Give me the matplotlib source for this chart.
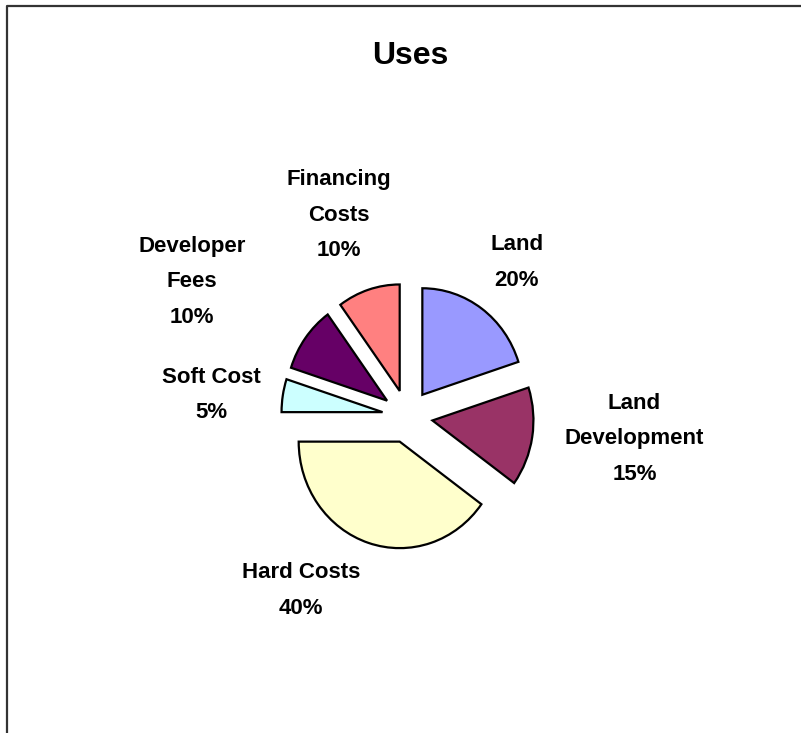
import numpy as np
import matplotlib
matplotlib.use("Agg")
import matplotlib.pyplot as plt
from matplotlib.lines import Line2D

# data
categories = ["Land", "Land\nDevelopment", "Hard Costs", "Soft Cost", "Developer\nFees", "Financing\nCosts"]
shares = [20, 15, 40, 5, 10, 10]
colors = ["#9999FF", "#993366", "#FFFFCC", "#CCFFFF", "#660066", "#FF8080"]

# label placement (distance from centre in px, angle nudge in degrees)
label_dist = [190, 228, 203, 197, 255, 214]
label_nudge = [0.9, 3.7, -13.7, 2.3, 3.8, 0.8]

W, H = 801, 733
fig = plt.figure(figsize=(W / 100, H / 100), dpi=100)

# background axes in pixel units (y downwards) for frame, title and labels
bg = fig.add_axes([0, 0, 1, 1])
bg.set_xlim(0, W)
bg.set_ylim(H, 0)
bg.axis("off")

# pie: excel draws it a little squashed (x radius 101 px, y radius 106.5 px)
cx, cy = 407.5, 416.3
rx, ry = 101, 106.5
ax = fig.add_axes([(cx - 1.25 * rx) / W, (H - cy - 1.25 * ry) / H,
                   2.5 * rx / W, 2.5 * ry / H])
explode = [0.25] * len(shares)
wedges, _ = ax.pie(shares, colors=colors, startangle=90, counterclock=False,
                   explode=explode,
                   wedgeprops=dict(edgecolor="black", linewidth=1.6))
ax.set_aspect("auto")
ax.set_xlim(-1.25, 1.25)
ax.set_ylim(-1.25, 1.25)
ax.axis("off")

for w, lab, val, d, nud in zip(wedges, categories, shares, label_dist, label_nudge):
    mid = np.deg2rad((w.theta1 + w.theta2) / 2 + nud)
    bg.text(cx + d * np.cos(mid), cy - d * np.sin(mid) + 1.5, "%s\n%d%%" % (lab, val),
            ha="center", va="center", multialignment="center",
            fontsize=16, fontweight="bold", family="Liberation Sans",
            linespacing=1.9)

bg.text(410, 56, "Uses", ha="center", va="center", fontsize=23,
        fontweight="bold", family="Liberation Sans")

# outer frame (only top and left edges visible)
bg.add_line(Line2D([7, 7, W + 5], [H + 5, 6, 6], color="#333333", linewidth=1.6))

fig.savefig("out.png", dpi=100)
